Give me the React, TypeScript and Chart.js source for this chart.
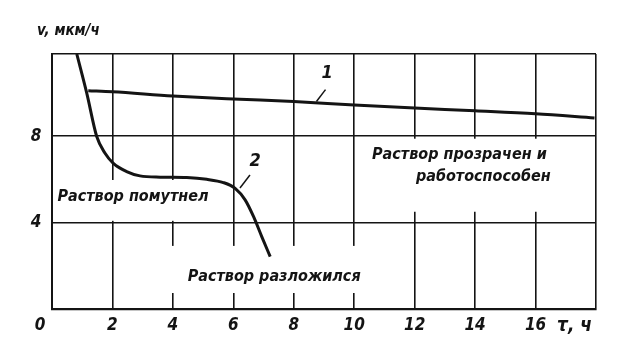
import React, { useEffect, useRef } from 'react';
import { Chart, registerables } from 'chart.js';
Chart.register(...registerables);

// Curve 1 — v (мкм/ч) vs τ (ч)
const curve1Tau = [1.2, 2, 4, 6, 8, 10, 12, 14, 16, 17.95];
const curve1V = [10.1, 10.05, 9.86, 9.72, 9.6, 9.44, 9.3, 9.17, 9.03, 8.84];
// Curve 2
const curve2Tau = [0.82, 1.15, 1.48, 1.75, 2.03, 2.47, 2.91, 3.58, 4.46, 5.12, 5.67, 6.06, 6.39, 6.67, 6.94, 7.22];
const curve2V = [11.8, 9.99, 7.98, 7.22, 6.74, 6.36, 6.16, 6.1, 6.08, 6.0, 5.85, 5.58, 5.05, 4.27, 3.35, 2.42];

const xTickValues = [0, 2, 4, 6, 8, 10, 12, 14, 16];
const xTickLabels = ['0', '2', '4', '6', '8', '10', '12', '14', '16'];
const yTickValues = [4, 8];
const yTickLabels = ['4', '8'];

const yAxisTitle = 'v, мкм/ч';
const xAxisTitle = 'τ, ч';

const FONT = "'DejaVu Sans Condensed', 'DejaVu Sans', sans-serif";
const INK = '#141414';

// annotations (text in data coordinates)
const notes = [
  { text: 'Раствор прозрачен и', x: 13.48, y: 7.13 },
  { text: 'работоспособен', x: 14.27, y: 6.11 },
  { text: 'Раствор помутнел', x: 2.68, y: 5.19 },
  { text: 'Раствор разложился', x: 7.35, y: 1.48 },
];
// white boxes behind notes (data coords: x0,x1,y0,y1)
const boxes = [
  [10.15, 17.93, 4.5, 7.88],
  [0.13, 5.4, 4.08, 5.97],
  [3.74, 10.8, 0.74, 2.92],
];
const curveLabels = [
  { text: '1', x: 9.1, y: 10.9, lx0: 8.75, ly0: 9.6, lx1: 9.05, ly1: 10.15 },
  { text: '2', x: 6.72, y: 6.85, lx0: 6.22, ly0: 5.6, lx1: 6.55, ly1: 6.2 },
];

const textPlugin = {
  id: 'textPlugin',
  beforeDatasetsDraw(chart: any) {
    const { ctx, scales } = chart;
    const xs = scales.x, ys = scales.y;
    ctx.save();
    ctx.fillStyle = '#ffffff';
    boxes.forEach(([x0, x1, y0, y1]) => {
      const px0 = xs.getPixelForValue(x0), px1 = xs.getPixelForValue(x1);
      const py0 = ys.getPixelForValue(y1), py1 = ys.getPixelForValue(y0);
      ctx.fillRect(px0, py0, px1 - px0, py1 - py0);
    });
    ctx.fillStyle = INK;
    ctx.textAlign = 'center';
    ctx.textBaseline = 'middle';
    ctx.font = `italic bold 16px ${FONT}`;
    notes.forEach((n) => {
      ctx.fillText(n.text, xs.getPixelForValue(n.x), ys.getPixelForValue(n.y));
    });
    ctx.restore();
  },
  afterDraw(chart: any) {
    const { ctx, scales, chartArea } = chart;
    const xs = scales.x, ys = scales.y;
    ctx.save();
    ctx.fillStyle = INK;
    ctx.strokeStyle = INK;
    // curve labels
    ctx.font = `italic bold 18px ${FONT}`;
    ctx.textAlign = 'center';
    ctx.textBaseline = 'middle';
    ctx.lineWidth = 1.5;
    curveLabels.forEach((c) => {
      ctx.fillText(c.text, xs.getPixelForValue(c.x), ys.getPixelForValue(c.y));
      ctx.beginPath();
      ctx.moveTo(xs.getPixelForValue(c.lx0), ys.getPixelForValue(c.ly0));
      ctx.lineTo(xs.getPixelForValue(c.lx1), ys.getPixelForValue(c.ly1));
      ctx.stroke();
    });
    // x tick labels
    ctx.font = `italic bold 17px ${FONT}`;
    ctx.textBaseline = 'middle';
    const ty = chartArea.bottom + 17;
    xTickValues.forEach((v, i) => {
      let px = xs.getPixelForValue(v);
      if (v === 0) px -= 12;
      ctx.fillText(xTickLabels[i], px, ty);
    });
    // y tick labels
    ctx.textAlign = 'center';
    yTickValues.forEach((v, i) => {
      ctx.fillText(yTickLabels[i], chartArea.left - 16, ys.getPixelForValue(v));
    });
    // axis titles
    ctx.font = `italic bold 19px ${FONT}`;
    ctx.textAlign = 'left';
    ctx.fillText(xAxisTitle, chartArea.right - 39, ty);
    ctx.font = `italic bold 15px ${FONT}`;
    ctx.fillText(yAxisTitle, chartArea.left - 15, chartArea.top - 23);
    ctx.restore();
  },
};

export default function App() {
  const ref = useRef<HTMLCanvasElement | null>(null);
  useEffect(() => {
    if (!ref.current) return;
    const chart = new Chart(ref.current, {
      type: 'line',
      data: {
        datasets: [
          {
            data: curve1Tau.map((x, i) => ({ x, y: curve1V[i] })),
            borderColor: INK,
            borderWidth: 3,
            pointRadius: 0,
            cubicInterpolationMode: 'monotone',
          },
          {
            data: curve2Tau.map((x, i) => ({ x, y: curve2V[i] })),
            borderColor: INK,
            borderWidth: 3,
            pointRadius: 0,
            cubicInterpolationMode: 'monotone',
          },
        ],
      },
      options: {
        animation: false,
        responsive: false,
        layout: { padding: { left: 52, top: 54, right: 37, bottom: 41 } },
        plugins: { legend: { display: false }, tooltip: { enabled: false } },
        scales: {
          x: {
            type: 'linear',
            min: 0,
            max: 18,
            ticks: { display: false, stepSize: 2 },
            grid: { color: INK, lineWidth: 1.6, drawTicks: false },
            border: { display: true, color: INK, width: 2.2 },
          },
          y: {
            type: 'linear',
            min: 0,
            max: 11.8,
            ticks: { display: false, stepSize: 4 },
            grid: { color: INK, lineWidth: 1.6, drawTicks: false },
            border: { display: true, color: INK, width: 2 },
          },
        },
      },
      plugins: [textPlugin],
    } as any);
    return () => chart.destroy();
  }, []);
  return (
    <div style={{ position: 'fixed', left: 0, top: 0, width: 633, height: 350, background: '#fff' }}>
      <canvas ref={ref} width={633} height={350} />
    </div>
  );
}
